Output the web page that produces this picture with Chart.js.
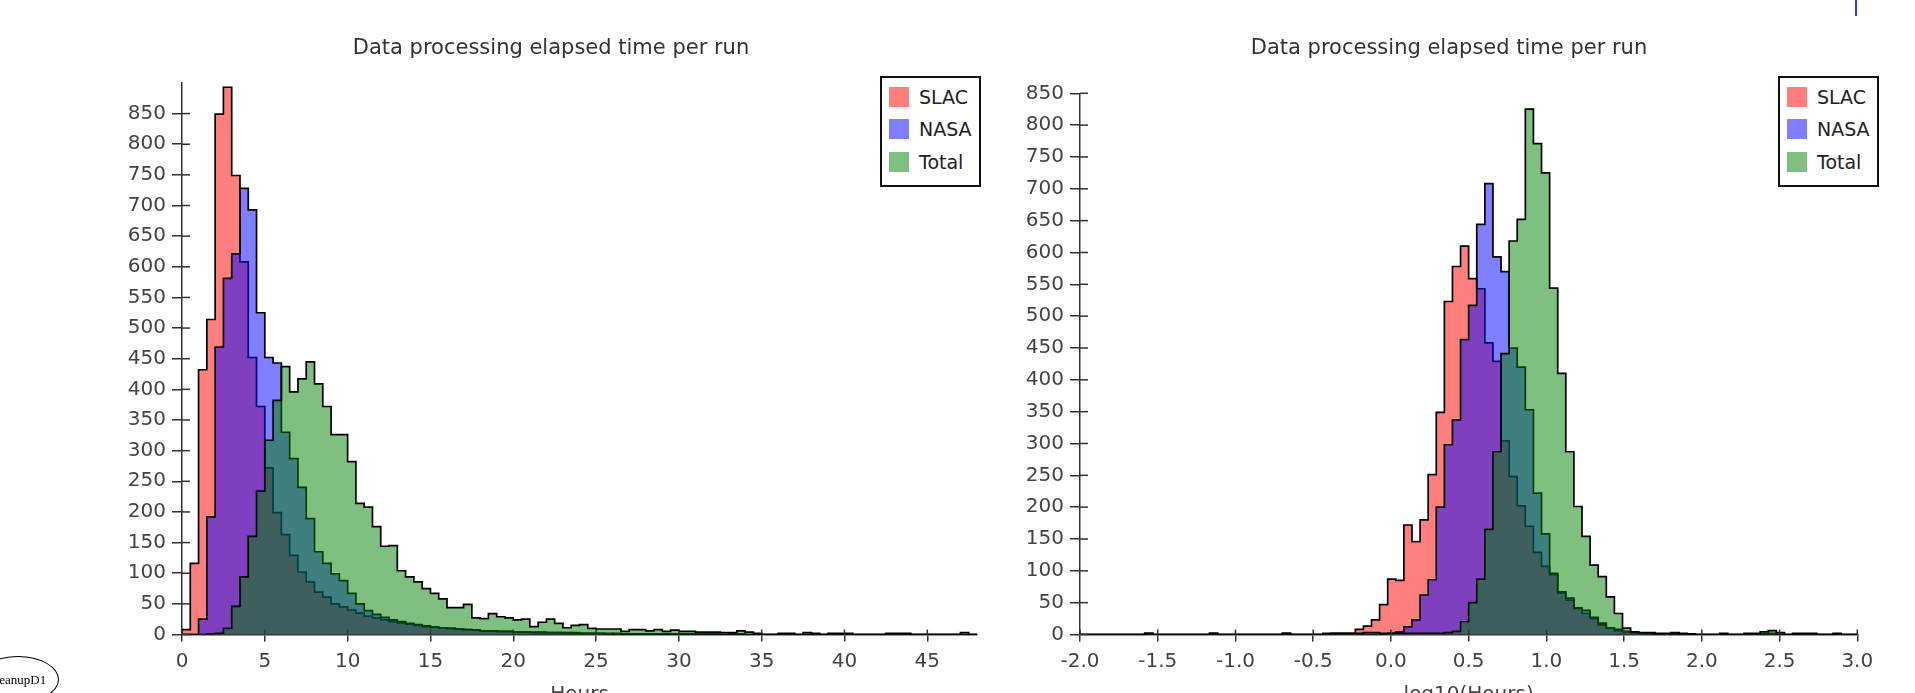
<!DOCTYPE html>
<html><head><meta charset="utf-8">
<script src="https://cdn.jsdelivr.net/npm/chart.js@4.4.1/dist/chart.umd.min.js"></script>
<style>
html,body{margin:0;padding:0;background:#fff;width:1915px;height:693px;overflow:hidden;position:relative;font-family:"DejaVu Sans",sans-serif;}
canvas{position:absolute;top:0;}
.title{position:absolute;top:37px;font-size:21px;line-height:21px;color:#333;white-space:nowrap;transform:translateX(-50%);}
.legend{position:absolute;top:76px;width:97px;height:107px;border:2px solid #111;background:#fff;}
.legend .item{position:absolute;left:7px;height:20px;}
.legend .sw{position:absolute;left:0;top:0;width:20px;height:20px;}
.legend .lt{position:absolute;left:30px;top:-1px;font-size:19px;line-height:22px;color:#222;white-space:nowrap;}
#node{position:absolute;left:-23px;top:656px;width:80px;height:45px;border:1px solid #000;border-radius:50%;font-family:"Liberation Serif",serif;font-size:13px;line-height:45px;text-align:center;color:#000;}
#mark{position:absolute;left:1855px;top:0;width:1.5px;height:16px;background:#2a3ae0;}
</style></head>
<body>
<canvas id="c1" width="1000" height="707" style="left:0px"></canvas>
<canvas id="c2" width="955" height="707" style="left:960px"></canvas>
<div class="title" id="t1" style="left:551px"></div>
<div class="title" id="t2" style="left:1449px"></div>
<div class="legend" id="lg1" style="left:880px"></div>
<div class="legend" id="lg2" style="left:1778px"></div>
<div id="node">cleanupD1</div>
<div id="mark"></div>
<script>
// ---- Data ----
const TITLE = 'Data processing elapsed time per run';
const SERIES = ['SLAC', 'NASA', 'Total'];
const COLORS = ['rgba(255,0,0,0.5)', 'rgba(0,0,255,0.5)', 'rgba(0,128,0,0.5)'];

// Left histogram: hours, 96 bins of 0.5 h starting at 0
const HOURS_BIN_START = 0;
const HOURS_BIN_WIDTH = 0.5;
const SLAC_HOURS = [8,116,432,514,849,893,749,608,452,372,
 272,199,163,129,102,86,69,61,50,45,
 40,35,30,27,24,21,19,17,15,13,
 12,11,10,9,8,7,6,6,5,5,
 4,4,3,4,3,3,2,3,2,2,
 2,1,2,1,1,1,1,1,1,1,
 1,1,0,1,0,0,1,0,0,0,
 0,0,0,0,0,0,0,0,0,0,
 0,0,0,0,0,0,0,0,0,0,
 0,0,0,0,0,0];
const NASA_HOURS = [0,0,25,192,469,581,621,728,693,525,
 452,443,330,287,240,189,135,116,99,88,
 67,50,39,33,28,24,21,18,16,14,
 12,11,10,9,8,7,6,6,5,5,
 4,4,4,3,3,3,3,2,2,2,
 2,2,1,1,1,1,1,1,1,1,
 1,1,1,0,1,0,0,1,0,0,
 0,0,0,0,0,0,0,0,0,0,
 0,0,0,0,0,0,0,0,0,0,
 0,0,0,0,0,0];
const TOTAL_HOURS = [0,0,0,1,2,10,46,94,160,234,
 317,382,437,396,417,445,409,372,326,326,
 282,214,208,176,144,145,104,94,86,75,
 67,58,44,44,49,27,26,34,29,27,
 24,25,13,20,25,18,11,15,16,10,
 9,9,9,5,8,8,6,8,5,7,
 5,5,4,4,4,3,3,6,4,2,
 0,0,2,2,0,3,2,0,2,2,
 2,0,0,0,0,2,2,2,0,0,
 0,0,0,0,3,0];
const HOURS_X_MAX = 48;
const HOURS_Y_MAX = 899.9;
const HOURS_X_TICKS = [0,5,10,15,20,25,30,35,40,45];

// Right histogram: log10(hours), 96 bins from -2 to 3
const LOG_BIN_START = -2;
const LOG_BIN_WIDTH = 5 / 96;
const SLAC_LOG = [0,0,0,0,0,0,0,0,2,0,
 0,0,0,0,0,0,2,0,0,0,
 0,0,0,0,0,2,0,0,0,0,
 1,2,2,2,8,13,23,47,87,85,
 172,146,180,251,349,523,578,610,559,543,
 458,429,304,248,202,170,129,107,94,65,
 54,42,33,25,18,10,8,5,3,2,
 2,1,1,1,0,0,0,0,0,0,
 0,0,0,0,1,1,0,0,0,0,
 0,0,0,0,0,0];
const NASA_LOG = [0,0,0,0,0,0,0,0,0,0,
 0,0,0,0,0,0,0,0,0,0,
 0,0,0,0,0,0,0,0,0,0,
 0,0,0,0,0,0,0,0,2,4,
 12,23,62,86,200,298,337,463,517,644,
 708,593,570,450,420,353,222,158,96,67,
 57,41,38,27,15,10,6,4,3,2,
 1,1,1,0,0,0,0,0,0,0,
 0,0,0,0,1,2,0,0,0,0,
 0,0,0,0,0,0];
const TOTAL_LOG = [0,0,0,0,0,0,0,0,2,0,
 0,0,0,0,0,0,2,0,0,0,
 0,0,0,0,0,2,0,0,0,0,
 2,2,2,2,2,3,3,2,2,2,
 2,2,2,2,2,3,5,20,50,87,
 165,287,441,618,652,825,771,725,544,410,
 287,201,154,109,91,59,33,10,4,3,
 3,2,2,3,2,1,0,0,0,2,
 0,0,2,2,4,6,3,0,2,2,
 2,0,0,2,0,0];
const LOG_X_MIN = -2, LOG_X_MAX = 3;
const LOG_Y_MAX = 850;
const LOG_X_TICKS = [-2,-1.5,-1,-0.5,0,0.5,1,1.5,2,2.5,3];
const Y_TICKS = [0,50,100,150,200,250,300,350,400,450,500,550,600,650,700,750,800,850];

// ---- Helpers ----
function histPoints(start, width, values) {
  const pts = [{x: start, y: 0}];
  values.forEach((v, i) => pts.push({x: start + i * width, y: v}));
  pts.push({x: start + values.length * width, y: 0});
  return pts;
}

const crossTicks = {
  id: 'crossTicks',
  afterDatasetsDraw(chart, args, opts) {
    const ctx = chart.ctx, xs = chart.scales.x, ys = chart.scales.y, ca = chart.chartArea;
    ctx.save();
    ctx.strokeStyle = '#333';
    ctx.lineWidth = 1.5;
    ys.ticks.forEach(t => {
      const py = ys.getPixelForValue(t.value);
      ctx.beginPath(); ctx.moveTo(ca.left, py); ctx.lineTo(ca.left + opts.yIn, py); ctx.stroke();
    });
    xs.ticks.forEach(t => {
      const px = xs.getPixelForValue(t.value);
      ctx.beginPath(); ctx.moveTo(px, ca.bottom); ctx.lineTo(px, ca.bottom - opts.xIn); ctx.stroke();
    });
    ctx.restore();
  }
};

const FONT = 'DejaVu Sans';
function buildChart(id, p) {
  const sets = [p.slac, p.nasa, p.total].map((vals, i) => ({
    label: SERIES[i],
    data: histPoints(p.start, p.width, vals),
    stepped: true,
    fill: 'origin',
    backgroundColor: COLORS[i],
    borderColor: '#000',
    borderWidth: 1.7,
    pointRadius: 0,
    tension: 0,
    order: 3 - i
  }));
  return new Chart(document.getElementById(id), {
    type: 'line',
    data: {datasets: sets},
    options: {
      responsive: false, animation: false, devicePixelRatio: 1,
      layout: {padding: {top: p.padTop, right: p.padRight, left: 0, bottom: 0}},
      plugins: {legend: {display: false}, tooltip: {enabled: false}, title: {display: false},
                crossTicks: {xIn: 5, yIn: 8}},
      scales: {
        x: {
          type: 'linear', min: p.xMin, max: p.xMax,
          afterBuildTicks: s => { s.ticks = p.xTicks.map(v => ({value: v})); },
          afterFit: s => { s.height = p.xH; },
          ticks: {callback: p.fmt, font: {family: FONT, size: 20}, color: '#444', padding: 8, maxRotation: 0, autoSkip: false},
          grid: {drawOnChartArea: false, drawTicks: true, tickLength: 7, color: '#333', lineWidth: 1.5},
          border: {display: true, color: '#333', width: 1.5},
          title: {display: true, text: p.xTitle, font: {family: FONT, size: 20}, color: '#444', padding: 0}
        },
        y: {
          type: 'linear', min: 0, max: p.yMax,
          afterBuildTicks: s => { s.ticks = Y_TICKS.map(v => ({value: v})); },
          afterFit: s => { s.width = p.yW; },
          ticks: {callback: v => String(v), font: {family: FONT, size: 20}, color: '#444', padding: 6, autoSkip: false},
          grid: {drawOnChartArea: false, drawTicks: true, tickLength: 10, color: '#333', lineWidth: 1.5},
          border: {display: true, color: '#333', width: 1.5}
        }
      }
    },
    plugins: [crossTicks]
  });
}

buildChart('c1', {
  slac: SLAC_HOURS, nasa: NASA_HOURS, total: TOTAL_HOURS,
  start: HOURS_BIN_START, width: HOURS_BIN_WIDTH,
  xMin: 0, xMax: HOURS_X_MAX, yMax: HOURS_Y_MAX, xTicks: HOURS_X_TICKS,
  fmt: v => String(v), xTitle: 'Hours',
  padTop: 83, padRight: 23, yW: 182, xH: 72.5
});
buildChart('c2', {
  slac: SLAC_LOG, nasa: NASA_LOG, total: TOTAL_LOG,
  start: LOG_BIN_START, width: LOG_BIN_WIDTH,
  xMin: LOG_X_MIN, xMax: LOG_X_MAX, yMax: LOG_Y_MAX, xTicks: LOG_X_TICKS,
  fmt: v => Number(v).toFixed(1), xTitle: 'log10(Hours)',
  padTop: 93.3, padRight: 57.7, yW: 120, xH: 72.5
});

// Titles and legends
document.getElementById('t1').textContent = TITLE;
document.getElementById('t2').textContent = TITLE;
const ITEM_TOPS = [9, 41, 74];
['lg1', 'lg2'].forEach(id => {
  const box = document.getElementById(id);
  SERIES.forEach((name, i) => {
    const item = document.createElement('div');
    item.className = 'item';
    item.style.top = ITEM_TOPS[i] + 'px';
    const sw = document.createElement('div');
    sw.className = 'sw';
    sw.style.background = COLORS[i];
    const lt = document.createElement('div');
    lt.className = 'lt';
    lt.textContent = name;
    item.appendChild(sw); item.appendChild(lt);
    box.appendChild(item);
  });
});
</script>
</body></html>
